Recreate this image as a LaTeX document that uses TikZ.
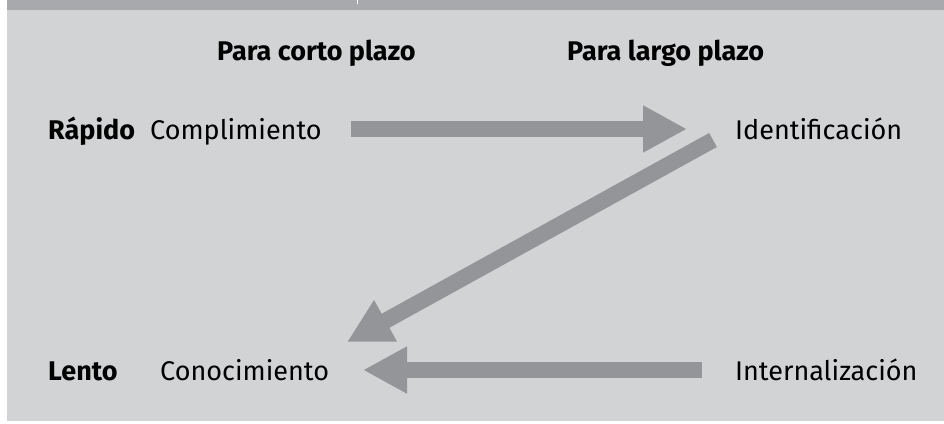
\documentclass[tikz,border=0pt]{standalone}
\usepackage{fontspec}
\setmainfont{Fira Sans}
\usetikzlibrary{arrows.meta}
\definecolor{bandgray}{HTML}{A7A9AC}
\definecolor{panelgray}{HTML}{D1D3D4}
\definecolor{arrowgray}{HTML}{939598}
\begin{document}
\begin{tikzpicture}[x=1pt,y=-1pt,
  lbl/.style={inner sep=0pt,anchor=base west,font=\fontsize{27}{32}\selectfont},
  hdr/.style={lbl,font=\fontsize{27}{32}\selectfont\bfseries},
  fat/.style={draw=arrowgray,line width=16pt,-{Triangle[length=44pt,width=44pt]}}]
\useasboundingbox (0,0) rectangle (944,423);
\fill[white] (0,0) rectangle (944,423);
\fill[panelgray] (7,0) rectangle (944,421);
\fill[bandgray] (7,0) rectangle (944,9.5);
\fill[white] (356.5,0) rectangle (358,4);
\node[hdr] (hc) at (217,60) {Para corto plazo};
\node[hdr] (hl) at (567,60) {Para largo plazo};
\node[hdr] (rap) at (48,139) {Rápido};
\node[lbl] (comp) at (150,139) {Complimiento};
\node[lbl] (iden) at (735,139) {Identificación};
\node[hdr] (len) at (48,380) {Lento};
\node[lbl] (cono) at (160,380) {Conocimiento};
\node[lbl] (inte) at (735,380) {Internalización};
\coordinate (a1s) at (351,129);
\coordinate (a1e) at (687,129);
\coordinate (a2s) at (713,140);
\coordinate (a2e) at (347,342);
\coordinate (a3s) at (702,370);
\coordinate (a3e) at (363,370);
\draw[fat] (a1s) -- (a1e);
\draw[fat] (a2s) -- (a2e);
\draw[fat] (a3s) -- (a3e);
\end{tikzpicture}
\end{document}
